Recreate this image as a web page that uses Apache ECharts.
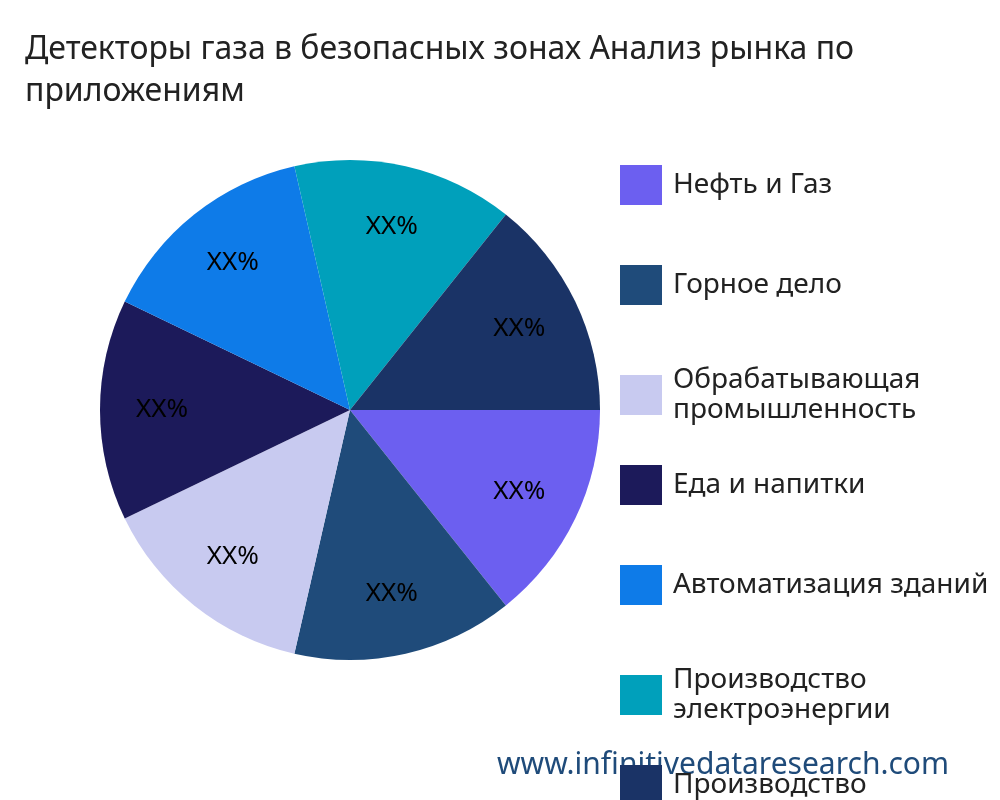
<!DOCTYPE html>
<html>
<head>
<meta charset="utf-8">
<script src="https://cdn.jsdelivr.net/npm/echarts@6/dist/echarts.min.js"></script>
<style>html,body{margin:0;padding:0;background:#fff}#chart{width:1000px;height:800px}</style>
</head>
<body>
<div id="chart"></div>
<script>
    // категории и значения
    var categories = ['Нефть и Газ', 'Горное дело', 'Обрабатывающая\nпромышленность', 'Еда и напитки',
        'Автоматизация зданий', 'Производство\nэлектроэнергии', 'Производство'];
    var values = [1, 1, 1, 1, 1, 1, 1];
    var colors = ['#6C5FF0', '#1F4B7A', '#C8CAF0', '#1C1A5A', '#0E7BE8', '#00A0BB', '#1A3366'];

    var chart = echarts.init(document.getElementById('chart'));
    var pieData = categories.map(function (c, i) { return {name: c, value: values[i]}; });

    // одна легенда на каждый пункт, шаг 100px
    var legends = categories.map(function (c, i) {
        return {
            orient: 'vertical',
            left: 615, top: 160 + i * 100,
            itemWidth: 42, itemHeight: 40,
            icon: 'rect',
            selectedMode: false,
            textStyle: {fontFamily: 'Noto Sans', fontSize: 28, color: '#222', lineHeight: 30, padding: [0, 0, 0, 6]},
            data: [c]
        };
    });

    var option = {
        color: colors,
        title: {
            text: 'Детекторы газа в безопасных зонах Анализ рынка по\nприложениям',
            left: 20, top: 24,
            textStyle: {fontFamily: 'Noto Sans', fontSize: 32, fontWeight: 'normal', color: '#222', lineHeight: 42}
        },
        legend: legends,
        graphic: [{
            type: 'text', left: 497, top: 750,
            style: {text: 'www.infinitivedataresearch.com', fontFamily: 'Noto Sans', fontSize: 30, fill: '#1F4B7A'}
        }],
        series: [{
            type: 'pie',
            center: [350, 410],
            radius: 250,
            startAngle: 0,
            clockwise: true,
            label: {show: false},
            labelLine: {show: false},
            data: pieData
        }, {
            // невидимый круг только для подписей (подписи дальше от центра)
            type: 'pie',
            center: [350, 410],
            radius: 370,
            startAngle: 0,
            clockwise: true,
            silent: true,
            itemStyle: {color: 'rgba(0,0,0,0)'},
            label: {
                position: 'inner',
                formatter: 'XX%',
                fontFamily: 'Noto Sans', fontSize: 26, color: '#000'
            },
            labelLine: {show: false},
            data: pieData
        }]
    };
    chart.setOption(option);
</script>
</body>
</html>
